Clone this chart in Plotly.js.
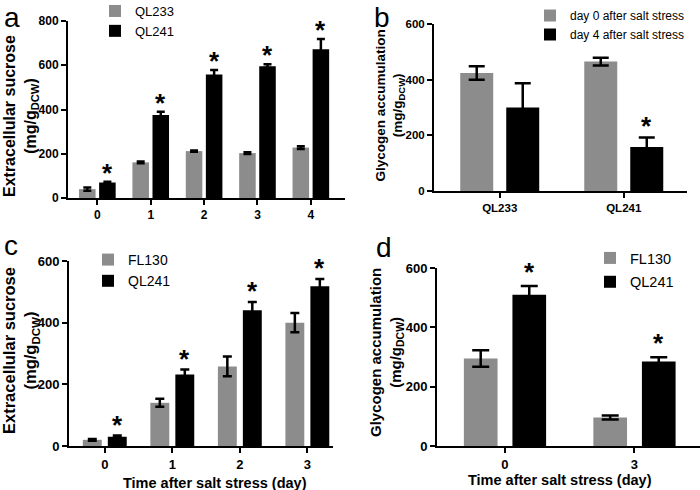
<!DOCTYPE html>
<html>
<head>
<meta charset="utf-8">
<script src="https://cdn.plot.ly/plotly-3.0.1.min.js"></script>
<style>html,body{margin:0;padding:0;background:#fff;}#chart{width:700px;height:490px;}</style>
</head>
<body>
<div id="chart"></div>
<script>
// ---- Data ----
// Panel a
const aCats = ['0', '1', '2', '3', '4'];
const aQL233 = [40, 161, 212, 203, 228];
const aQL233Err = [7, 4, 3, 4, 6];
const aQL241 = [70, 375, 558, 596, 672];
const aQL241Err = [3, 15, 20, 8, 47];
const aStars = [true, true, true, true, true];
// Panel b
const bCats = ['QL233', 'QL241'];
const bDay0 = [424, 465];
const bDay0Err = [24, 14];
const bDay4 = [300, 158];
const bDay4Err = [87, 34];
const bStars = [false, true];
// Panel c
const cCats = ['0', '1', '2', '3'];
const cFL130 = [20, 140, 258, 400];
const cFL130Err = [3, 13, 32, 31];
const cQL241 = [30, 232, 440, 518];
const cQL241Err = [4, 16, 27, 24];
const cStars = [true, true, true, true];
// Panel d
const dCats = ['0', '3'];
const dFL130 = [295, 96];
const dFL130Err = [28, 7];
const dQL241 = [510, 285];
const dQL241Err = [29, 14];
const dStars = [true, true];

// ---- Styles ----
const FONT = 'Liberation Sans, Arial, Helvetica, sans-serif';
const GRAY = '#8c8c8c';
const BLACK = '#000000';
const W = 700, H = 490;
const px = v => v / W;
const py = v => 1 - v / H;

const traces = [];
const annotations = [];
function panel(idx, cats, g, gErr, k, kErr, stars, names, geo, legendId) {
  const xs = cats.map((_, i) => i);
  const xa = idx === 1 ? 'x' : 'x' + idx;
  const ya = idx === 1 ? 'y' : 'y' + idx;
  const w = geo.w, gap = geo.gap;
  const gOff = -(w + gap / 2), kOff = gap / 2;
  traces.push({
    type: 'bar', x: xs, y: g, name: names[0], xaxis: xa, yaxis: ya,
    width: w, offset: gOff, marker: {color: GRAY, line: {width: 0}},
    error_y: {type: 'data', array: gErr, visible: true, color: BLACK, thickness: 2.5, width: geo.cap},
    legend: legendId, legendgroup: legendId + 'a', hoverinfo: 'x+y'
  });
  traces.push({
    type: 'bar', x: xs, y: k, name: names[1], xaxis: xa, yaxis: ya,
    width: w, offset: kOff, marker: {color: BLACK, line: {width: 0}},
    error_y: {type: 'data', array: kErr, visible: true, color: BLACK, thickness: 2.5, width: geo.cap},
    legend: legendId, legendgroup: legendId + 'b', hoverinfo: 'x+y'
  });
  stars.forEach((s, i) => {
    if (s) {
      annotations.push({
        text: '*', xref: xa, yref: ya, x: i + kOff + w / 2, y: k[i] + kErr[i],
        xanchor: 'center', yanchor: 'middle', yshift: geo.starGap - 3, showarrow: false,
        font: {family: FONT, size: 26, weight: 'bold', color: BLACK}
      });
    }
  });
}

panel(1, aCats, aQL233, aQL233Err, aQL241, aQL241Err, aStars, ['QL233', 'QL241'], {w: 0.31, gap: 0.066, cap: 4, starGap: 12}, 'legend');
panel(2, bCats, bDay0, bDay0Err, bDay4, bDay4Err, bStars, ['day 0 after salt stress', 'day 4 after salt stress'], {w: 0.266, gap: 0.105, cap: 8, starGap: 15}, 'legend2');
panel(3, cCats, cFL130, cFL130Err, cQL241, cQL241Err, cStars, ['FL130', 'QL241'], {w: 0.28, gap: 0.09, cap: 4.5, starGap: 14}, 'legend3');
panel(4, dCats, dFL130, dFL130Err, dQL241, dQL241Err, dStars, ['FL130', 'QL241'], {w: 0.26, gap: 0.115, cap: 8.5, starGap: 17}, 'legend4');

function xAxis(dom, range, cats, anchor, fs) {
  return {
    domain: dom, range: range, anchor: anchor, tickmode: 'array',
    tickvals: cats.map((_, i) => i), ticktext: cats,
    showline: true, linecolor: BLACK, linewidth: 2, ticks: 'outside', ticklen: 5, tickwidth: 2, tickcolor: BLACK,
    showgrid: false, zeroline: false, fixedrange: true,
    tickfont: {family: FONT, size: fs, weight: 'bold', color: BLACK}
  };
}
function yAxis(dom, range, anchor, fs) {
  return {
    domain: dom, range: range, anchor: anchor, dtick: 200, tick0: 0,
    showline: true, linecolor: BLACK, linewidth: 2, ticks: 'outside', ticklen: 5, tickwidth: 2, tickcolor: BLACK,
    showgrid: false, zeroline: false, fixedrange: true,
    tickfont: {family: FONT, size: fs, weight: 'bold', color: BLACK}
  };
}
function legend(xPix, yPix, fs, gap) {
  return {
    x: px(xPix), xanchor: 'left', y: py(yPix), yanchor: 'top',
    bgcolor: 'rgba(0,0,0,0)', borderwidth: 0, traceorder: 'grouped', tracegroupgap: gap,
    font: {family: FONT, size: fs, color: BLACK}, itemwidth: 30
  };
}
// Panel letters
[['a', 2, 0, 'top'], ['b', 372, 0, 'top'], ['c', 2, 245, 'middle'], ['d', 374, 248, 'middle']].forEach(([t, x, y, ya]) => {
  annotations.push({text: t, xref: 'paper', yref: 'paper', x: px(x), y: py(y), xanchor: 'left', yanchor: ya,
    showarrow: false, font: {family: FONT, size: 28, color: BLACK}});
});
// Y axis titles
[['Extracellular sucrose', 21, 116, 16], ['Glycogen accumulation', 389.5, 105, 13.5],
 ['Extracellular sucrose', 21, 351, 16.5], ['Glycogen accumulation', 386, 352, 15]].forEach(([t, x, y, fs]) => {
  annotations.push({text: t + '<br>(mg/g<sub>DCW</sub>)', xref: 'paper', yref: 'paper', x: px(x), y: py(y),
    xanchor: 'center', yanchor: 'middle', textangle: -90, showarrow: false,
    font: {family: FONT, size: fs, weight: 'bold', color: BLACK}});
});
// X axis titles
[[215, 483], [560, 480]].forEach(([x, y]) => {
  annotations.push({text: 'Time after salt stress (day)', xref: 'paper', yref: 'paper', x: px(x), y: py(y),
    xanchor: 'center', yanchor: 'middle', showarrow: false,
    font: {family: FONT, size: 14.5, weight: 'bold', color: BLACK}});
});

const layout = {
  width: W, height: H, margin: {l: 0, r: 0, t: 0, b: 0, autoexpand: false},
  paper_bgcolor: '#fff', plot_bgcolor: '#fff', barmode: 'overlay', showlegend: true,
  xaxis: xAxis([px(68), px(345)], [-0.55, 4.64], aCats, 'y', 12),
  yaxis: yAxis([py(198), py(21)], [0, 800], 'x', 12),
  xaxis2: xAxis([px(434), px(687)], [-0.53, 1.51], bCats, 'y2', 11.5),
  yaxis2: yAxis([py(191), py(24)], [0, 600], 'x2', 11.5),
  xaxis3: xAxis([px(69), px(333)], [-0.53, 3.38], cCats, 'y3', 13),
  yaxis3: yAxis([py(446), py(261)], [0, 600], 'x3', 13),
  xaxis4: xAxis([px(437), px(700)], [-0.525, 1.506], dCats, 'y4', 13),
  yaxis4: yAxis([py(446), py(268)], [0, 600], 'x4', 13),
  legend: legend(95, -4, 13, 0),
  legend2: legend(530, 1, 12, 0),
  legend3: legend(88, 244, 14, 0),
  legend4: legend(590, 242, 14.5, 2),
  annotations: annotations
};
Plotly.newPlot('chart', traces, layout, {displayModeBar: false, staticPlot: true});
</script>
</body>
</html>
